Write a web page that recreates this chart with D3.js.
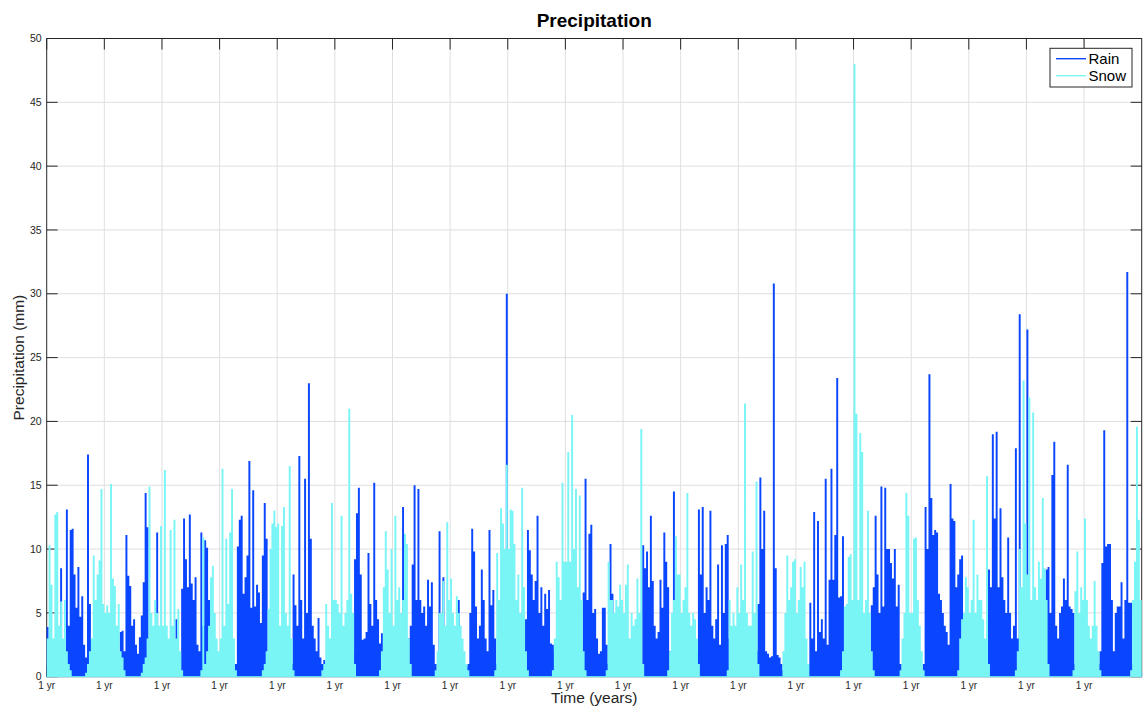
<!DOCTYPE html>
<html>
<head>
<meta charset="utf-8">
<script src="https://cdn.jsdelivr.net/npm/d3@7"></script>
<style>
  body { margin: 0; background: #fff; }
  svg { display: block; font-family: Helvetica, Arial, "Liberation Sans", sans-serif; }
</style>
</head>
<body>
<svg id="chart" width="1147" height="709"></svg>
<script>
// x ticks: one per year, MATLAB shows every one as "1 yr"
const xTickYears = [0, 1, 2, 3, 4, 5, 6, 7, 8, 9, 10, 11, 12, 13, 14, 15, 16, 17, 18];
const xTickLabel = "1 yr";
const yTicks = [0, 5, 10, 15, 20, 25, 30, 35, 40, 45, 50];
const seriesNames = ["Rain", "Snow"];

// precipitation (mm), 30 samples per year (~12 days each)
const rain = [
  [3.9,0.5,1,0.8,0.5,0.3,1.2,8.5,2,1.5, 13.1,4,11.5,11.6,8,5.4,8.6,4.7,6.3,2.5, 1.5,17.4,5.7,2.9,0.5,0.3,0,0.2,0.5,0.3],
  [0.3,0.5,0.8,0.5,0.3,1,0.5,0.8,3.5,3.6, 2,11.1,7.9,7.1,4,4.5,2.5,1.8,3.1,4.8, 7.4,14.4,11.7,3,1,0.5,0.8,11.3,0.5,0.3],
  [0.5,0.3,1,0.5,0.8,0.3,1,4.5,1,0.5, 6.9,12.4,9.2,7,12.7,7.3,6,7.8,2.5,2, 11.3,4,10.7,10.1,6,2,0.8,0.5,0.3,1.5],
  [0.5,0.3,0.5,1,0.5,0.3,0.8,1.3,1,10.2, 12.3,12.6,6.5,7.8,9.5,16.9,5.4,14.6,5.5,7.2, 6.6,4.2,9.5,13.6,10.8,1,0.5,0.3,0.8,0.5],
  [0.5,1,0.8,0.5,1,0.3,0.5,1,8,5.6, 4,17.3,6,3,15.5,5,23,10.8,4,3, 2,4.6,1.5,1,1.3,0.5,0.3,0.5,0.8,0.3],
  [0.5,0.3,0.8,0.5,1,0.3,2.4,0.5,1,2, 9.2,12.8,14.8,8,2.9,3,3.5,9.7,5.7,4, 15.2,6,4.5,2.6,3.4,1,0.5,1.3,0.5,0.3],
  [0.5,0.3,0.5,1,0.5,13.3,1,0.8,3,4, 8.8,15,6,14.7,6,5,5.5,4,7.6,5.5, 7.4,2.5,1,0.5,11.4,1,7.8,0.5,0.8,0.3],
  [0.5,1,0.5,0.8,6,1,0.5,1,0.8,1, 5,11.6,9.8,5.5,3,4,8.4,6,3,2, 11.5,5.6,6.8,3,1,0.5,1,0.5,0.8,30],
  [0.5,0.3,1,0.5,0.8,0.3,0.5,1,0.8,4.5, 11.5,9.9,8,6,7.5,12.6,5,7,4,6.5, 5.3,6.8,2.6,2.5,2,1,0.5,0.3,0.5,0.3],
  [0.5,0.3,1,0.5,0.3,0.8,0.5,1,2,6.6, 15.5,6,11.2,11.9,5,5.3,3,1.8,2,5.4, 5.4,2.5,1,10.4,6.5,1,0.5,0.8,0.3,0.5],
  [0.5,0.3,0.8,0.5,1,0.5,0.3,1,0.5,1, 10.3,8.5,9.8,7,12.6,7.5,4,3,3.5,7.6, 5.4,11.3,9,7,2,1.5,14.5,0.5,0.3,0.5],
  [0.5,0.3,0.8,0.5,1,0.3,0.5,1,2,13.1, 8,13.3,5,7,6,13,4,3,4.5,8.8, 2.5,10.3,5,10.4,11.1,3,1,0.5,0.3,0.5],
  [0.5,0.3,1,0.5,0.8,0.3,0.5,1,0.5,2, 5.7,15.6,10,13,2,1.8,1.5,1.6,30.8,8.5, 1.7,1.5,1,0.5,0.3,0.5,1,0.3,0.5,0.8],
  [0.5,0.3,1,0.5,0.8,0.5,1,5.8,3,12.9, 2,12.2,3.5,4.5,3,15.5,2.5,7.6,16.3,7.6, 11.1,23.4,6.2,6.3,11,1,0.5,0.3,0.5,0.8],
  [1,0.5,0.3,0.8,0.5,0.3,1,0.5,2,5.6, 7,12.6,8,5,14.9,5.5,14.8,10,10,8.9, 7.7,10,5.5,7.2,1,0.5,0.3,0.8,0.5,0.3],
  [0.5,0.3,1,0.5,0.8,0.3,1,13.3,10,23.7, 14,11.1,11.5,11.3,6.5,6,5,4,3.5,2.5, 15.1,12.4,12.2,7,8,9.2,9.5,1,0.5,0.3],
  [0.5,0.3,1,0.5,0.8,0.3,0.5,1,0.5,2, 8.4,7,19,12.4,19.2,7,13.2,7.8,6,5, 10.9,5,3,4,17.9,3,28.4,1,0.5,0.5],
  [27.2,1,1,0.8,0.5,1,2,1,0.5,1, 8.4,8.6,5,15.8,18.4,4,3,5,5.5,7.7, 6,16.6,5.5,5.3,5,1,0.5,0.3,0.5,0.3],
  [0.5,0.3,1,0.5,0.8,1,0.5,1,2,8.9, 19.3,10.2,10.4,10.4,6,2,5,5.5,5.5,7.4, 3,6,31.7,5.8,5.8,1,0.5,0.3,0.5,0.3]
];

const snow = [
  [3,10.3,7.2,3,12.7,12.9,4,5.9,3,6, 2,1,0.5,0,0,0,0,0,0,0, 0.3,1,2,3,9.5,6,8,9.1,14.7,5.7],
  [5,5.6,5,15.1,7.7,7.1,4,5.7,2,1.5, 0.5,0,0,0,0,0,0,0,0,0.3, 1,1.5,3,14.9,5,4,6,5,4,11.8],
  [4,16.2,4,3,11.5,4,12.3,3,5.3,2, 0.5,0,0,0,0,0,0,0,0,0, 0.5,10.9,1,2,4,7.8,8.7,5,3,2],
  [3,16.3,4,10.8,5.7,11.3,14.7,3,0.5,0, 0,0,0,0,0,0,0,0,0,0, 0,0,0.5,1,2,5.3,10,12,13,11.7],
  [12,4,11.8,13.3,5,4,16.5,3,0.5,0, 0,0,0,0,0,0,0,0,0,0, 0,0,0,0.5,1,5.7,4,3,13.6,6],
  [6,5.7,5,12.6,4,5,6,21,6.5,5, 1,0,0,0,0,0,0,0,0,0, 0,0,0,0.5,2,7,11.4,8.4,5,10],
  [4,12.6,6,7,5,6,11.2,10.4,3,1, 0,0,0,0,0,0,0,0,0,0, 0,0,0.5,2,5,5,7.5,4,12.1,6],
  [7.7,5,4,6.3,5,4,3,2,1,0.5, 0,0,0,0,0,0,0,0,0,0, 0,0,0,0.5,9.7,6,13.2,12,10,16.6],
  [10,13.1,13,10.4,6,8,5,14.8,7,2, 0.5,0,0,0,0,0,0,0,0,0, 0,0,0,0.5,3,9,7.8,6,15.2,9],
  [9,17.6,9,20.5,10,14.7,7,14.2,6,2, 0.5,0,0,0,0,0,0,0,0,0, 0,0.5,9,6,6,5,6,5.5,7.2,6],
  [5,7.2,8.8,3,5,4,4.5,7.7,5,19.4, 1,0,0,0,0,0,0,0,0,0, 0,0,0,0.5,2,5,6,11,8,8],
  [5,6,7,14.4,5,4,5,4.5,3,1, 0,0,0,0,0,0,0,0,0,0, 0,0,0,0,0.5,6,4,5,4,7],
  [5,8.8,6,21.4,5,4,4,9.8,5,15.3, 1,0,0,0,0,0,0,0,0,0, 0,0,0,2,5,9.5,6,7,9,9.2],
  [5,6,8.6,7,9,3,1,0,0,0, 0,0,0,0,0,0,0,0,0,0, 0,0,0,0.5,2,5.5,5.7,9.4,9.6,6],
  [48,20.6,6,19.1,17.6,5,6,13,5,2, 0.5,0,0,0,0,0,0,0,0,0, 0,0,0,0,0.5,3,5,14.4,12.6,5],
  [5,10.8,10.9,6,4,2,0.5,0,0,0, 0,0,0,0,0,0,0,0,0,0, 0,0,0,0,0.5,3,4.5,5,7.8,7],
  [5,6,12.3,5,8,6,6,4.5,3,15.7, 1,0,0,0,0,0,0,0,0,0, 0,0,0,0,0.5,2,10,7,23.2,12],
  [8,21.9,6,20.7,7,6,9,7.7,14,8.5, 6,1,0,0,0,0,0,0,0,0, 0,0,0,0,0.5,6.7,9.8,5,7,6],
  [12.4,6,4,3,4,7.5,4,2,0.5,0, 0,0,0,0,0,0,0,0,0,0, 0,0,0,0,0.5,6,9,19.6,12.3,6]
];

const colors = {Rain: "#0a46ff", Snow: "#7af5f6"};
const axisColor = "#262626";
const gridColor = "#dfdfdf";

const svg = d3.select("#chart");
const width = 1147, height = 709;
const marginTop = 38.5, marginRight = 5.3, marginBottom = 32.3, marginLeft = 46.7;
const tickLen = 11;

const x = d3.scaleLinear()
  .domain([0, 19])
  .range([marginLeft, width - marginRight]);

const y = d3.scaleLinear()
  .domain([0, 50])
  .range([height - marginBottom, marginTop]);

// turn year arrays into (time in years, value) samples
function toSamples (years) {
  return years.flatMap((vals, k) => vals.map((v, i) => ({t: k + (i + 0.5) / vals.length, v: v})));
}

// grid
const grid = svg.append("g").attr("class", "grid")
  .attr("stroke", gridColor).attr("stroke-width", 1);
grid.selectAll("line.gx").data(xTickYears.slice(1)).enter().append("line")
  .attr("x1", d => x(d)).attr("x2", d => x(d))
  .attr("y1", y(50)).attr("y2", y(0));
grid.selectAll("line.gy").data(yTicks.slice(1, -1)).enter().append("line")
  .attr("x1", x(0)).attr("x2", x(19))
  .attr("y1", d => y(d)).attr("y2", d => y(d));

// ticks (inside the box, on all four sides)
const ticks = svg.append("g").attr("stroke", axisColor).attr("stroke-width", 1);
for (const d of yTicks) {
  ticks.append("line").attr("x1", x(0)).attr("x2", x(0) + tickLen).attr("y1", y(d)).attr("y2", y(d));
  ticks.append("line").attr("x1", x(19)).attr("x2", x(19) - tickLen).attr("y1", y(d)).attr("y2", y(d));
}
for (const d of xTickYears) {
  ticks.append("line").attr("x1", x(d)).attr("x2", x(d)).attr("y1", y(50)).attr("y2", y(50) + tickLen);
  ticks.append("line").attr("x1", x(d)).attr("x2", x(d)).attr("y1", y(0)).attr("y2", y(0) - tickLen);
}

// box
svg.append("rect")
  .attr("x", x(0)).attr("y", y(50))
  .attr("width", x(19) - x(0)).attr("height", y(0) - y(50))
  .attr("fill", "none").attr("stroke", axisColor).attr("stroke-width", 1);

// data: each sample drawn as a stem from 0, rain first then snow on top
for (const [name, values] of [["Rain", rain], ["Snow", snow]]) {
  const samples = toSamples(values);
  svg.append("path")
    .attr("d", samples.map(p => `M${x(p.t).toFixed(2)},${y(0)}V${y(p.v).toFixed(2)}`).join(""))
    .attr("fill", "none")
    .attr("stroke", colors[name])
    .attr("stroke-width", 1.95);
}
// snow zero line along the bottom
svg.append("line")
  .attr("x1", x(0)).attr("x2", x(19)).attr("y1", y(0)).attr("y2", y(0))
  .attr("stroke", colors.Snow).attr("stroke-width", 1);

// tick labels
svg.append("g").selectAll("text").data(yTicks).enter().append("text")
  .attr("x", x(0) - 5).attr("y", d => y(d)).attr("dy", "0.35em")
  .attr("text-anchor", "end").attr("font-size", 10.5).attr("fill", axisColor)
  .text(d => d);
svg.append("g").selectAll("text").data(xTickYears).enter().append("text")
  .attr("x", d => x(d)).attr("y", y(0) + 12.5)
  .attr("text-anchor", "middle").attr("font-size", 10).attr("fill", axisColor)
  .text(xTickLabel);

// titles
svg.append("text")
  .attr("x", (x(0) + x(19)) / 2).attr("y", 27)
  .attr("text-anchor", "middle").attr("font-size", 19).attr("font-weight", "bold")
  .attr("fill", "#000").text("Precipitation");
svg.append("text")
  .attr("x", (x(0) + x(19)) / 2).attr("y", 703)
  .attr("text-anchor", "middle").attr("font-size", 15.5).attr("fill", axisColor)
  .text("Time (years)");
svg.append("text")
  .attr("transform", `translate(23.5,${(y(0) + y(50)) / 2}) rotate(-90)`)
  .attr("text-anchor", "middle").attr("font-size", 15.5).attr("fill", axisColor)
  .text("Precipitation (mm)");

// legend
const legend = svg.append("g").attr("transform", "translate(1050,48.3)");
legend.append("rect").attr("width", 82).attr("height", 38.7)
  .attr("fill", "#fff").attr("stroke", axisColor).attr("stroke-width", 1);
seriesNames.forEach((name, i) => {
  const ly = 10.4 + i * 17;
  legend.append("line").attr("x1", 6).attr("x2", 36).attr("y1", ly).attr("y2", ly)
    .attr("stroke", colors[name]).attr("stroke-width", 1.4);
  legend.append("text").attr("x", 38.5).attr("y", ly + 5.2)
    .attr("font-size", 15).attr("fill", "#000").text(name);
});
</script>
</body>
</html>
